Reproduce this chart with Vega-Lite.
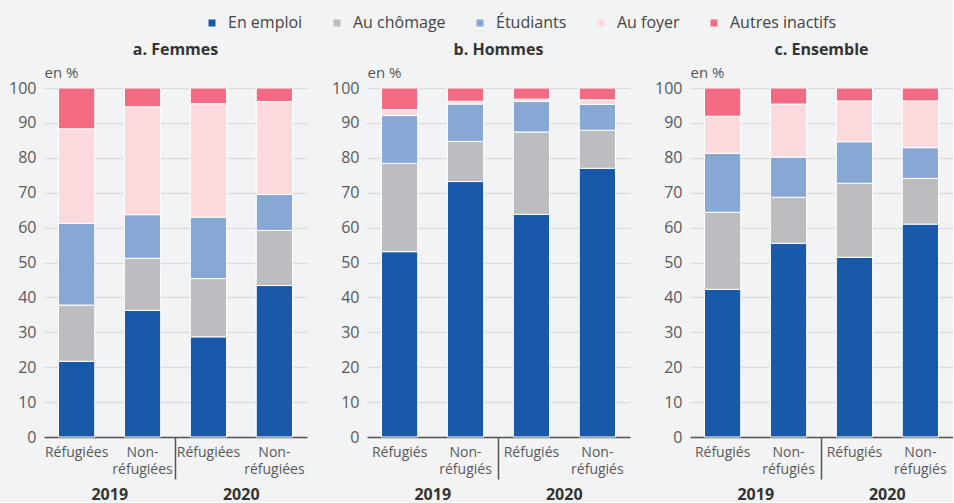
{
  "$schema": "https://vega.github.io/schema/vega-lite/v6.json",
  "background": "#f2f3f5",
  "padding": {"left": 8, "top": 15, "right": 0, "bottom": 0},
  "spacing": 24,
  "datasets": {
    "d": [
      {"p":"a","x":"2019|Réfugiées","y":"2019","s":"En emploi","k":1,"v":21.7},
      {"p":"a","x":"2019|Réfugiées","y":"2019","s":"Au chômage","k":2,"v":16.1},
      {"p":"a","x":"2019|Réfugiées","y":"2019","s":"Étudiants","k":3,"v":23.4},
      {"p":"a","x":"2019|Réfugiées","y":"2019","s":"Au foyer","k":4,"v":27.1},
      {"p":"a","x":"2019|Réfugiées","y":"2019","s":"Autres inactifs","k":5,"v":11.7},
      {"p":"a","x":"2019|Non-|réfugiées","y":"2019","s":"En emploi","k":1,"v":36.3},
      {"p":"a","x":"2019|Non-|réfugiées","y":"2019","s":"Au chômage","k":2,"v":14.9},
      {"p":"a","x":"2019|Non-|réfugiées","y":"2019","s":"Étudiants","k":3,"v":12.5},
      {"p":"a","x":"2019|Non-|réfugiées","y":"2019","s":"Au foyer","k":4,"v":30.9},
      {"p":"a","x":"2019|Non-|réfugiées","y":"2019","s":"Autres inactifs","k":5,"v":5.4},
      {"p":"a","x":"2020|Réfugiées","y":"2020","s":"En emploi","k":1,"v":28.7},
      {"p":"a","x":"2020|Réfugiées","y":"2020","s":"Au chômage","k":2,"v":16.7},
      {"p":"a","x":"2020|Réfugiées","y":"2020","s":"Étudiants","k":3,"v":17.6},
      {"p":"a","x":"2020|Réfugiées","y":"2020","s":"Au foyer","k":4,"v":32.5},
      {"p":"a","x":"2020|Réfugiées","y":"2020","s":"Autres inactifs","k":5,"v":4.5},
      {"p":"a","x":"2020|Non-|réfugiées","y":"2020","s":"En emploi","k":1,"v":43.4},
      {"p":"a","x":"2020|Non-|réfugiées","y":"2020","s":"Au chômage","k":2,"v":15.8},
      {"p":"a","x":"2020|Non-|réfugiées","y":"2020","s":"Étudiants","k":3,"v":10.3},
      {"p":"a","x":"2020|Non-|réfugiées","y":"2020","s":"Au foyer","k":4,"v":26.6},
      {"p":"a","x":"2020|Non-|réfugiées","y":"2020","s":"Autres inactifs","k":5,"v":3.9},
      {"p":"b","x":"2019|Réfugiés","y":"2019","s":"En emploi","k":1,"v":53.1},
      {"p":"b","x":"2019|Réfugiés","y":"2019","s":"Au chômage","k":2,"v":25.3},
      {"p":"b","x":"2019|Réfugiés","y":"2019","s":"Étudiants","k":3,"v":13.7},
      {"p":"b","x":"2019|Réfugiés","y":"2019","s":"Au foyer","k":4,"v":1.7},
      {"p":"b","x":"2019|Réfugiés","y":"2019","s":"Autres inactifs","k":5,"v":6.2},
      {"p":"b","x":"2019|Non-|réfugiés","y":"2019","s":"En emploi","k":1,"v":73.2},
      {"p":"b","x":"2019|Non-|réfugiés","y":"2019","s":"Au chômage","k":2,"v":11.5},
      {"p":"b","x":"2019|Non-|réfugiés","y":"2019","s":"Étudiants","k":3,"v":10.7},
      {"p":"b","x":"2019|Non-|réfugiés","y":"2019","s":"Au foyer","k":4,"v":0.8},
      {"p":"b","x":"2019|Non-|réfugiés","y":"2019","s":"Autres inactifs","k":5,"v":3.8},
      {"p":"b","x":"2020|Réfugiés","y":"2020","s":"En emploi","k":1,"v":63.8},
      {"p":"b","x":"2020|Réfugiés","y":"2020","s":"Au chômage","k":2,"v":23.6},
      {"p":"b","x":"2020|Réfugiés","y":"2020","s":"Étudiants","k":3,"v":8.8},
      {"p":"b","x":"2020|Réfugiés","y":"2020","s":"Au foyer","k":4,"v":0.6},
      {"p":"b","x":"2020|Réfugiés","y":"2020","s":"Autres inactifs","k":5,"v":3.2},
      {"p":"b","x":"2020|Non-|réfugiés","y":"2020","s":"En emploi","k":1,"v":77.0},
      {"p":"b","x":"2020|Non-|réfugiés","y":"2020","s":"Au chômage","k":2,"v":10.9},
      {"p":"b","x":"2020|Non-|réfugiés","y":"2020","s":"Étudiants","k":3,"v":7.4},
      {"p":"b","x":"2020|Non-|réfugiés","y":"2020","s":"Au foyer","k":4,"v":1.3},
      {"p":"b","x":"2020|Non-|réfugiés","y":"2020","s":"Autres inactifs","k":5,"v":3.4},
      {"p":"c","x":"2019|Réfugiés","y":"2019","s":"En emploi","k":1,"v":42.3},
      {"p":"c","x":"2019|Réfugiés","y":"2019","s":"Au chômage","k":2,"v":22.1},
      {"p":"c","x":"2019|Réfugiés","y":"2019","s":"Étudiants","k":3,"v":16.9},
      {"p":"c","x":"2019|Réfugiés","y":"2019","s":"Au foyer","k":4,"v":10.6},
      {"p":"c","x":"2019|Réfugiés","y":"2019","s":"Autres inactifs","k":5,"v":8.1},
      {"p":"c","x":"2019|Non-|réfugiés","y":"2019","s":"En emploi","k":1,"v":55.5},
      {"p":"c","x":"2019|Non-|réfugiés","y":"2019","s":"Au chômage","k":2,"v":13.2},
      {"p":"c","x":"2019|Non-|réfugiés","y":"2019","s":"Étudiants","k":3,"v":11.5},
      {"p":"c","x":"2019|Non-|réfugiés","y":"2019","s":"Au foyer","k":4,"v":15.2},
      {"p":"c","x":"2019|Non-|réfugiés","y":"2019","s":"Autres inactifs","k":5,"v":4.6},
      {"p":"c","x":"2020|Réfugiés","y":"2020","s":"En emploi","k":1,"v":51.5},
      {"p":"c","x":"2020|Réfugiés","y":"2020","s":"Au chômage","k":2,"v":21.2},
      {"p":"c","x":"2020|Réfugiés","y":"2020","s":"Étudiants","k":3,"v":11.9},
      {"p":"c","x":"2020|Réfugiés","y":"2020","s":"Au foyer","k":4,"v":11.7},
      {"p":"c","x":"2020|Réfugiés","y":"2020","s":"Autres inactifs","k":5,"v":3.7},
      {"p":"c","x":"2020|Non-|réfugiés","y":"2020","s":"En emploi","k":1,"v":61.0},
      {"p":"c","x":"2020|Non-|réfugiés","y":"2020","s":"Au chômage","k":2,"v":13.1},
      {"p":"c","x":"2020|Non-|réfugiés","y":"2020","s":"Étudiants","k":3,"v":8.8},
      {"p":"c","x":"2020|Non-|réfugiés","y":"2020","s":"Au foyer","k":4,"v":13.4},
      {"p":"c","x":"2020|Non-|réfugiés","y":"2020","s":"Autres inactifs","k":5,"v":3.7}
    ]
  },
  "hconcat": [
    {
      "title": "a. Femmes",
      "width": 263, "height": 349,
      "data": {"name": "d"},
      "transform": [{"filter": "datum.p == 'a'"}],
      "layer": [
        {
          "mark": {"type": "bar", "stroke": "white", "strokeWidth": 1},
          "encoding": {
            "x": {"field": "x", "type": "nominal", "sort": null, "scale": {"paddingInner": 0.45, "paddingOuter": 0.22},
                  "axis": {"title": null, "labelExpr": "slice(split(datum.value, '|'), 1)", "labelAngle": 0, "ticks": false, "labelPadding": 8, "labelFontSize": 14, "labelLineHeight": 17, "labelColor": "#595959", "domainColor": "#555555", "domainWidth": 1.5, "grid": false}},
            "y": {"field": "v", "type": "quantitative", "stack": "zero", "scale": {"domain": [0, 100]},
                  "axis": {"values": [0,10,20,30,40,50,60,70,80,90,100], "title": "en %", "titleAngle": 0, "titleAlign": "left", "titleBaseline": "alphabetic", "titleX": 0, "titleY": -11, "titleFontSize": 15, "titleFontWeight": "normal", "titleColor": "#555555", "domain": false, "ticks": false, "labelPadding": 8, "labelFontSize": 16, "labelColor": "#595959", "gridColor": "#dcdde0", "gridWidth": 1.5}},
            "color": {"field": "s", "type": "nominal",
                      "scale": {"domain": ["En emploi", "Au chômage", "Étudiants", "Au foyer", "Autres inactifs"], "range": ["#1859a9", "#bcbdc0", "#87a8d4", "#fbd9dd", "#f36a83"]},
                      "legend": {"orient": "none", "legendX": 160, "legendY": -73, "direction": "horizontal", "columns": 5, "title": null, "symbolType": "square", "symbolSize": 49, "symbolStrokeWidth": 0, "labelFontSize": 16, "labelColor": "#444444", "columnPadding": 26, "labelOffset": 8}},
            "order": {"field": "k", "type": "quantitative", "sort": "ascending"}
          }
        },
        {
          "mark": {"type": "rule", "opacity": 0},
          "encoding": {"x": {"field": "y", "type": "nominal", "scale": {"paddingInner": 0, "paddingOuter": 0},
                             "axis": {"orient": "bottom", "title": null, "domain": false, "ticks": false, "grid": false, "labelAngle": 0, "labelPadding": 49, "labelFontSize": 16, "labelFontWeight": "bold", "labelColor": "#333333"}}}
        },
        {
          "mark": {"type": "rule", "opacity": 0},
          "encoding": {"x": {"field": "y", "type": "nominal", "scale": {"paddingInner": 0, "paddingOuter": 0},
                             "axis": {"orient": "bottom", "title": null, "values": ["2020"], "bandPosition": 0, "domain": false, "labels": false, "ticks": true, "tickSize": 42, "tickColor": "#555555", "tickWidth": 1.5, "grid": false}}}
        }
      ],
      "resolve": {"scale": {"x": "independent"}}
    },
    {
      "title": "b. Hommes",
      "width": 263, "height": 349,
      "data": {"name": "d"},
      "transform": [{"filter": "datum.p == 'b'"}],
      "layer": [
        {
          "mark": {"type": "bar", "stroke": "white", "strokeWidth": 1},
          "encoding": {
            "x": {"field": "x", "type": "nominal", "sort": null, "scale": {"paddingInner": 0.45, "paddingOuter": 0.22},
                  "axis": {"title": null, "labelExpr": "slice(split(datum.value, '|'), 1)", "labelAngle": 0, "ticks": false, "labelPadding": 8, "labelFontSize": 14, "labelLineHeight": 17, "labelColor": "#595959", "domainColor": "#555555", "domainWidth": 1.5, "grid": false}},
            "y": {"field": "v", "type": "quantitative", "stack": "zero", "scale": {"domain": [0, 100]},
                  "axis": {"values": [0,10,20,30,40,50,60,70,80,90,100], "title": "en %", "titleAngle": 0, "titleAlign": "left", "titleBaseline": "alphabetic", "titleX": 0, "titleY": -11, "titleFontSize": 15, "titleFontWeight": "normal", "titleColor": "#555555", "domain": false, "ticks": false, "labelPadding": 8, "labelFontSize": 16, "labelColor": "#595959", "gridColor": "#dcdde0", "gridWidth": 1.5}},
            "color": {"field": "s", "type": "nominal"},
            "order": {"field": "k", "type": "quantitative", "sort": "ascending"}
          }
        },
        {
          "mark": {"type": "rule", "opacity": 0},
          "encoding": {"x": {"field": "y", "type": "nominal", "scale": {"paddingInner": 0, "paddingOuter": 0},
                             "axis": {"orient": "bottom", "title": null, "domain": false, "ticks": false, "grid": false, "labelAngle": 0, "labelPadding": 49, "labelFontSize": 16, "labelFontWeight": "bold", "labelColor": "#333333"}}}
        },
        {
          "mark": {"type": "rule", "opacity": 0},
          "encoding": {"x": {"field": "y", "type": "nominal", "scale": {"paddingInner": 0, "paddingOuter": 0},
                             "axis": {"orient": "bottom", "title": null, "values": ["2020"], "bandPosition": 0, "domain": false, "labels": false, "ticks": true, "tickSize": 42, "tickColor": "#555555", "tickWidth": 1.5, "grid": false}}}
        }
      ],
      "resolve": {"scale": {"x": "independent"}}
    },
    {
      "title": "c. Ensemble",
      "width": 263, "height": 349,
      "data": {"name": "d"},
      "transform": [{"filter": "datum.p == 'c'"}],
      "layer": [
        {
          "mark": {"type": "bar", "stroke": "white", "strokeWidth": 1},
          "encoding": {
            "x": {"field": "x", "type": "nominal", "sort": null, "scale": {"paddingInner": 0.45, "paddingOuter": 0.22},
                  "axis": {"title": null, "labelExpr": "slice(split(datum.value, '|'), 1)", "labelAngle": 0, "ticks": false, "labelPadding": 8, "labelFontSize": 14, "labelLineHeight": 17, "labelColor": "#595959", "domainColor": "#555555", "domainWidth": 1.5, "grid": false}},
            "y": {"field": "v", "type": "quantitative", "stack": "zero", "scale": {"domain": [0, 100]},
                  "axis": {"values": [0,10,20,30,40,50,60,70,80,90,100], "title": "en %", "titleAngle": 0, "titleAlign": "left", "titleBaseline": "alphabetic", "titleX": 0, "titleY": -11, "titleFontSize": 15, "titleFontWeight": "normal", "titleColor": "#555555", "domain": false, "ticks": false, "labelPadding": 8, "labelFontSize": 16, "labelColor": "#595959", "gridColor": "#dcdde0", "gridWidth": 1.5}},
            "color": {"field": "s", "type": "nominal"},
            "order": {"field": "k", "type": "quantitative", "sort": "ascending"}
          }
        },
        {
          "mark": {"type": "rule", "opacity": 0},
          "encoding": {"x": {"field": "y", "type": "nominal", "scale": {"paddingInner": 0, "paddingOuter": 0},
                             "axis": {"orient": "bottom", "title": null, "domain": false, "ticks": false, "grid": false, "labelAngle": 0, "labelPadding": 49, "labelFontSize": 16, "labelFontWeight": "bold", "labelColor": "#333333"}}}
        },
        {
          "mark": {"type": "rule", "opacity": 0},
          "encoding": {"x": {"field": "y", "type": "nominal", "scale": {"paddingInner": 0, "paddingOuter": 0},
                             "axis": {"orient": "bottom", "title": null, "values": ["2020"], "bandPosition": 0, "domain": false, "labels": false, "ticks": true, "tickSize": 42, "tickColor": "#555555", "tickWidth": 1.5, "grid": false}}}
        }
      ],
      "resolve": {"scale": {"x": "independent"}}
    }
  ],
  "config": {
    "font": "Open Sans",
    "view": {"stroke": null},
    "title": {"fontSize": 16, "fontWeight": "bold", "color": "#333333", "offset": 7}
  }
}
